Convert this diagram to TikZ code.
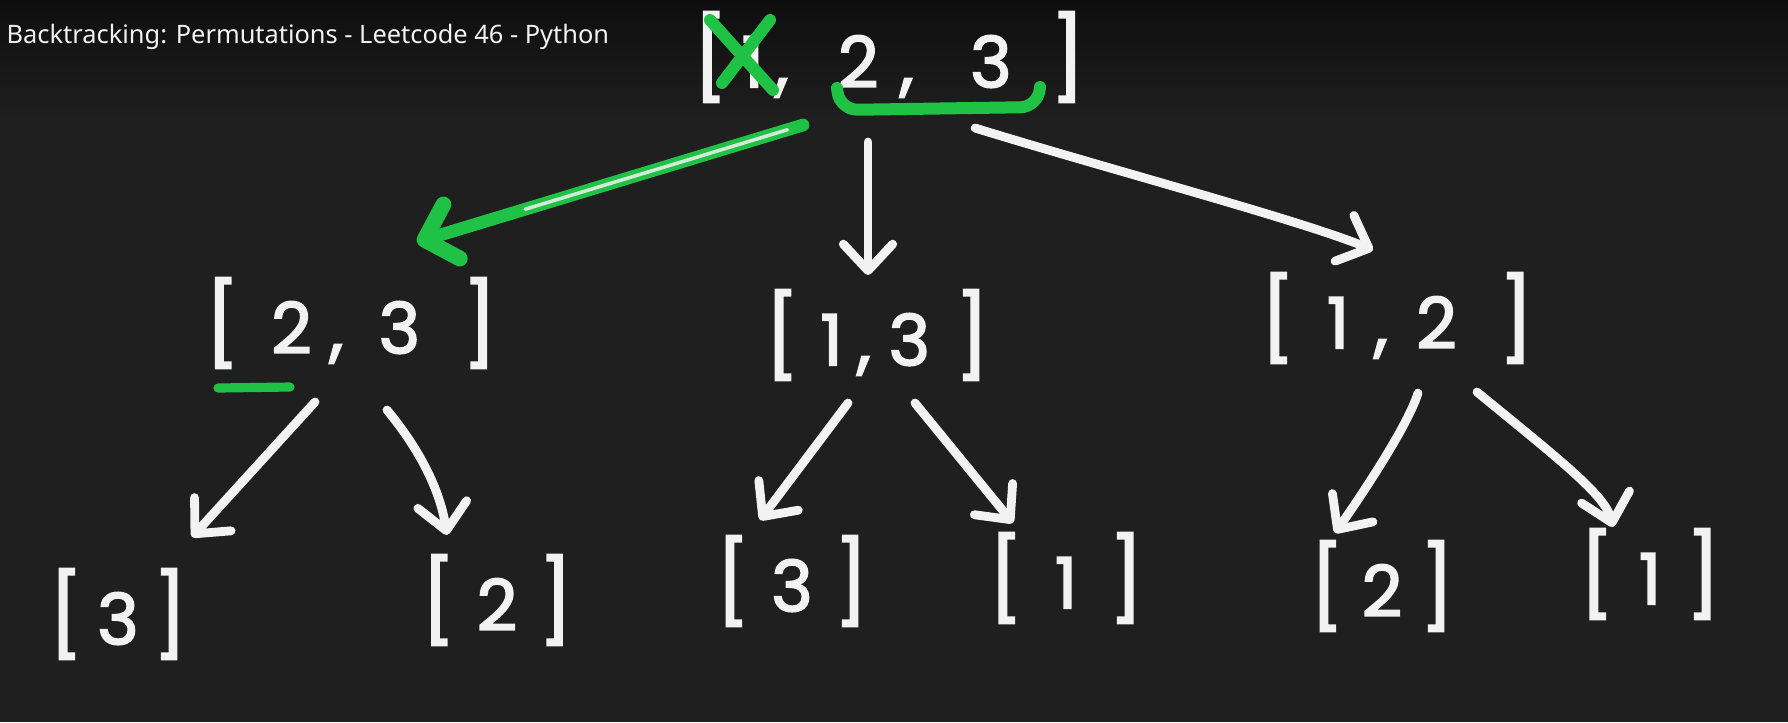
\documentclass[tikz,border=0pt]{standalone}
\usepackage{fontspec}
\usetikzlibrary{arrows.meta,calc}
\newfontfamily\hand{Poppins}[FakeBold=2.5]
\newfontfamily\titlefont{Noto Sans}
\definecolor{bg}{HTML}{1F1F1F}
\definecolor{bgtop}{HTML}{0E0E0E}
\definecolor{ink}{HTML}{F2F2F2}
\definecolor{hl}{HTML}{1FC244}
\newcommand\hlb{{\fontsize{23}{23}\selectfont[}}
\newcommand\hrb{{\fontsize{23}{23}\selectfont]}}
\newcommand\gp[1]{\hspace{#1pt}}
\begin{document}
\begin{tikzpicture}[x=0.2835pt,y=-0.2835pt,
  lst/.style={text=ink,font=\hand\fontsize{20}{20}\selectfont,inner sep=0pt,anchor=center},
  arr/.style={draw=ink,line width=2.5pt,line cap=round,line join=round,-{Straight Barb[round,length=7.5pt,width=14pt]}},
  garr/.style={draw=hl,line width=3.6pt,line cap=round,line join=round,-{Straight Barb[round,length=8pt,width=16pt,line width=4.5pt]}},
  gline/.style={draw=hl,line width=3.4pt,line cap=round,line join=round},
  core/.style={draw=ink,line width=1pt,line cap=round,opacity=.85},
]
\useasboundingbox (0,0) rectangle (1788,722);
\fill[bg] (0,0) rectangle (1788,722);
\shade[top color=bgtop,bottom color=bg] (0,0) rectangle (1788,120);

\node[anchor=base west,font=\titlefont\fontsize{7.2}{8}\selectfont,text=ink,inner sep=0pt] (T) at (6,43) {Backtracking: Permutations - Leetcode 46 - Python};

% lists
\node[lst] (R) at (889,57) {\hlb\gp{4}1\gp{3},\gp{14}2\gp{6},\gp{16}3\gp{11}\hrb};
\node[lst] (L1a) at (351,323) {\hlb\gp{9}2\gp{5},\gp{10}3\gp{12}\hrb};
\node[lst] (L1b) at (877,335) {\hlb\gp{6}1\gp{4},\gp{5}3\gp{7}\hrb};
\node[lst] (L1c) at (1397,318) {\hlb\gp{9}1\gp{7},\gp{8}2\gp{12}\hrb};
\node[lst] (L2a) at (118,614) {\hlb\gp{4}3\gp{4}\hrb};
\node[lst] (L2b) at (497,600) {\hlb\gp{6}2\gp{6}\hrb};
\node[lst] (L2c) at (792,581) {\hlb\gp{6}3\gp{6}\hrb};
\node[lst] (L2d) at (1066,578) {\hlb\gp{9}1\gp{9}\hrb};
\node[lst] (L2e) at (1382,586) {\hlb\gp{5}2\gp{5}\hrb};
\node[lst] (L2f) at (1650,574) {\hlb\gp{7}1\gp{7}\hrb};

% green marks on root
\draw[gline] ([shift={(-179,-37)}]R.center) -- ([shift={(-116,33)}]R.center);
\draw[gline] ([shift={(-119,-37)}]R.center) -- ([shift={(-167,26)}]R.center);
\draw[gline,rounded corners=5pt] ([shift={(-52,31)}]R.center) -- ([shift={(-49,53)}]R.center) -- ([shift={(149,50)}]R.center) -- ([shift={(151,30)}]R.center);
\draw[gline,line width=2.6pt] ([shift={(-133,65)}]L1a.center) -- ([shift={(-61,64)}]L1a.center);

% level 1 connectors
\coordinate (gs) at ([shift={(-86,68)}]R.center);
\coordinate (ge) at ([shift={(66,-81)}]L1a.center);
\draw[garr] (gs) -- (ge);
\draw[core] ($(gs)!0.04!(ge)$) -- ($(gs)!0.72!(ge)$);
\draw[arr] ([shift={(-21,85)}]R.center) -- ([shift={(-9,-60)}]L1b.center);
\draw[arr] ([shift={(86,71)}]R.center) .. controls (1108,169) and (1300,220) .. ([shift={(-24,-68)}]L1c.center);

% level 2 connectors
\draw[arr] ([shift={(-36,79)}]L1a.center) -- ([shift={(74,-77)}]L2a.center);
\draw[arr] ([shift={(36,87)}]L1a.center) .. controls (420,450) and (440,490) .. ([shift={(-50,-65)}]L2b.center);
\draw[arr] ([shift={(-29,68)}]L1b.center) -- ([shift={(-32,-61)}]L2c.center);
\draw[arr] ([shift={(38,68)}]L1b.center) -- ([shift={(-53,-55)}]L2d.center);
\draw[arr] ([shift={(21,75)}]L1c.center) .. controls (1408,425) and (1365,490) .. ([shift={(-47,-53)}]L2e.center);
\draw[arr] ([shift={(80,74)}]L1c.center) .. controls (1560,460) and (1605,495) .. ([shift={(-37,-47)}]L2f.center);
\end{tikzpicture}
\end{document}
